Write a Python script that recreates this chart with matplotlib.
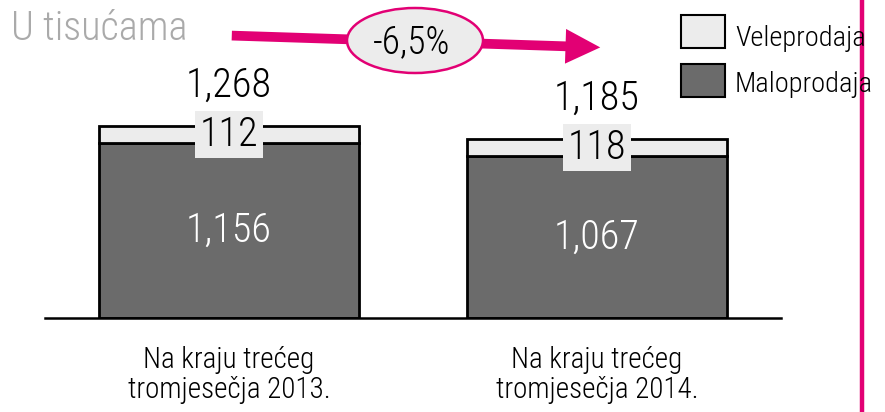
import matplotlib
matplotlib.use("Agg")
import matplotlib.pyplot as plt
from matplotlib.patches import Ellipse, FancyArrowPatch, Rectangle
from matplotlib.lines import Line2D

plt.rcParams['font.family'] = ['Roboto Condensed', 'DejaVu Sans']
plt.rcParams['font.weight'] = 'light'

categories = ["Na kraju trećeg\ntromjesečja 2013.", "Na kraju trećeg\ntromjesečja 2014."]
maloprodaja = [1156, 1067]
veleprodaja = [112, 118]
totals = [1268, 1185]
change_label = "-6,5%"
title = "U tisućama"
series_names = ["Veleprodaja", "Maloprodaja"]

DARK = "#6b6b6b"
LIGHT = "#ececec"
MAGENTA = "#e20074"

W, H = 885, 412
fig = plt.figure(figsize=(W / 100, H / 100), dpi=100)

def fx(px):
    return px / W

def fy(py):
    return 1 - py / H

# axes: left 45px, right 781px, top 0, baseline at 318px
ax = fig.add_axes([fx(45), fy(318), fx(781 - 45), 318 / H])
x = list(range(len(categories)))
bw = 0.709
ax.bar(x, maloprodaja, width=bw, color=DARK, edgecolor="black", linewidth=2, zorder=2)
ax.bar(x, veleprodaja, width=bw, bottom=maloprodaja, color=LIGHT, edgecolor="black", linewidth=2, zorder=2)
ax.set_xlim(-0.5, 1.5)
ax.set_ylim(0, 318 / 0.1514)
for s in ["top", "right", "left"]:
    ax.spines[s].set_visible(False)
ax.spines["bottom"].set_linewidth(1.8)
ax.set_yticks([])
ax.set_xticks(x)
ax.set_xticklabels(categories, fontsize=21, linespacing=1.1)
ax.tick_params(axis="x", length=0, pad=20)

for i in x:
    ax.text(i, maloprodaja[i] / 2, f"{maloprodaja[i]:,}", ha="center", va="center",
            color="white", fontsize=29, zorder=3)
    ax.text(i, maloprodaja[i] + veleprodaja[i] / 2, f"{veleprodaja[i]:,}", ha="center", va="center",
            color="black", fontsize=29, zorder=3,
            bbox=dict(boxstyle="square,pad=0.11", facecolor=LIGHT, edgecolor="none"))
    ax.annotate(f"{totals[i]:,}", xy=(i, totals[i]), xytext=(0, 29), textcoords="offset points",
                ha="center", va="center", fontsize=29, color="black", zorder=3)

# title
fig.text(fx(11), fy(29), title, fontsize=29, color="#aaaaaa", ha="left", va="center")

# arrow
arr = FancyArrowPatch((fx(229), fy(35.5)), (fx(603), fy(47.5)), transform=fig.transFigure,
                      arrowstyle="simple,head_length=1.0,head_width=1.0,tail_width=0.28",
                      mutation_scale=25, color=MAGENTA, lw=0)
fig.add_artist(arr)
ell = Ellipse((fx(415), fy(40.5)), fx(136), 65 / H, transform=fig.transFigure,
              facecolor=LIGHT, edgecolor=MAGENTA, linewidth=1.8)
fig.add_artist(ell)
fig.text(fx(412), fy(42), change_label, fontsize=27, ha="center", va="center", color="black")

# legend
fig.add_artist(Rectangle((fx(681), fy(48)), fx(44), 33 / H, transform=fig.transFigure,
                         facecolor=LIGHT, edgecolor="black", linewidth=1.5))
fig.add_artist(Rectangle((fx(681), fy(97)), fx(44), 33 / H, transform=fig.transFigure,
                         facecolor=DARK, edgecolor="black", linewidth=1.5))
fig.text(fx(735), fy(38), series_names[0], fontsize=20.5, ha="left", va="center")
fig.text(fx(735), fy(85), series_names[1], fontsize=20.5, ha="left", va="center")

# magenta vertical line
fig.add_artist(Line2D([fx(862), fx(862)], [0, 1], transform=fig.transFigure,
                      color=MAGENTA, linewidth=3.2))

fig.savefig("out.png", dpi=100)
